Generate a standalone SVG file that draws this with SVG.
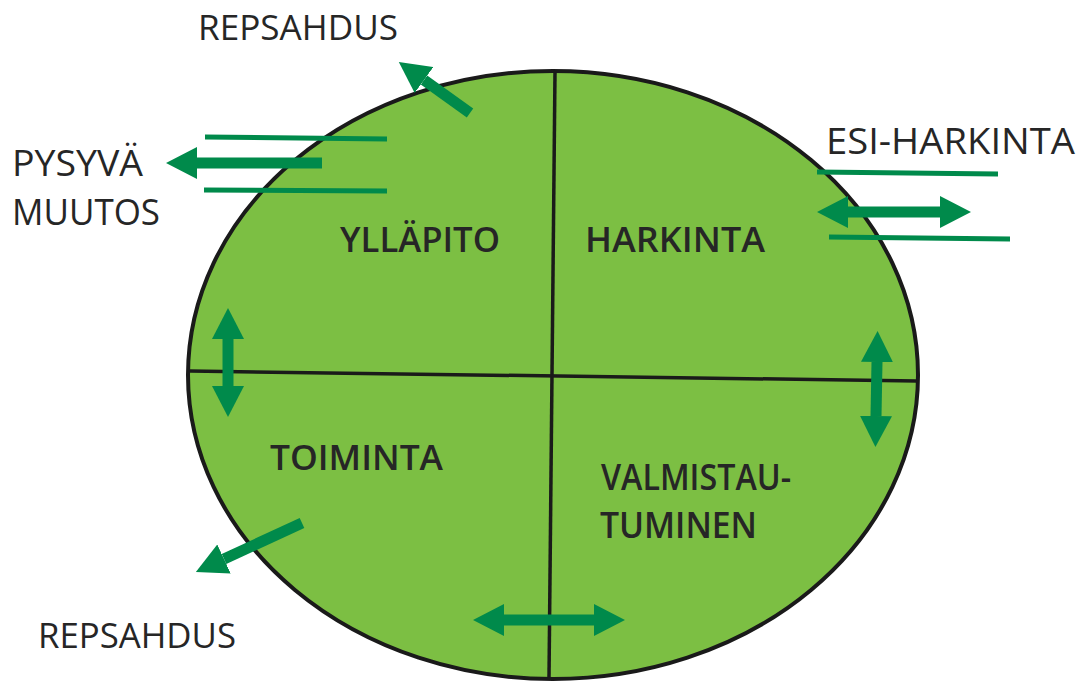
<svg xmlns="http://www.w3.org/2000/svg" width="1088" height="684" viewBox="0 0 1088 684">
<style>
.lbl{font-family:"Open Sans","Liberation Sans",sans-serif;font-weight:600;fill:#262626}
.out{font-family:"Open Sans","Liberation Sans",sans-serif;font-weight:500;fill:#262626}
.arr{stroke:#008a4b;stroke-width:11;fill:none}
.thin{stroke:#008a4b;stroke-width:5;fill:none}
.div{stroke:#1a1a1a;stroke-width:3.5;fill:none}
</style>
<defs>
<marker id="ah" viewBox="0 -16 31 32" refX="0" refY="0" markerWidth="31" markerHeight="32" markerUnits="userSpaceOnUse" orient="auto-start-reverse">
<path d="M0,-16 L31,0 L0,16 z" fill="#008a4b"/>
</marker>
</defs>
<rect width="1088" height="684" fill="#ffffff"/>
<g id="ellipse">
<ellipse cx="553" cy="375" rx="365" ry="304" fill="#7cbf43" stroke="#1a1a1a" stroke-width="4"/>
<line class="div" x1="555" y1="72" x2="549" y2="678"/>
<line class="div" x1="190" y1="371" x2="917" y2="381"/>
</g>
<g id="quadrant-labels">
<text class="lbl" x="340" y="252" font-size="34" textLength="160" lengthAdjust="spacingAndGlyphs">YLLÄPITO</text>
<text class="lbl" x="585" y="252" font-size="34" textLength="180" lengthAdjust="spacingAndGlyphs">HARKINTA</text>
<text class="lbl" x="270" y="470" font-size="34" textLength="173" lengthAdjust="spacingAndGlyphs">TOIMINTA</text>
<text class="lbl" x="601" y="490" font-size="36" textLength="190" lengthAdjust="spacingAndGlyphs">VALMISTAU-</text>
<text class="lbl" x="600" y="538" font-size="36" textLength="157" lengthAdjust="spacingAndGlyphs">TUMINEN</text>
</g>
<g id="outer-labels">
<text class="out" x="198" y="40" font-size="35" textLength="200" lengthAdjust="spacingAndGlyphs">REPSAHDUS</text>
<text class="out" x="12" y="176" font-size="37" textLength="131" lengthAdjust="spacingAndGlyphs">PYSYVÄ</text>
<text class="out" x="12" y="225" font-size="37" textLength="148" lengthAdjust="spacingAndGlyphs">MUUTOS</text>
<text class="out" x="826" y="154" font-size="36" textLength="249" lengthAdjust="spacingAndGlyphs">ESI-HARKINTA</text>
<text class="out" x="38" y="648" font-size="35" textLength="198" lengthAdjust="spacingAndGlyphs">REPSAHDUS</text>
</g>
<g id="connectors">
<line class="arr" x1="470" y1="113" x2="424" y2="80" marker-end="url(#ah)"/>
<line class="thin" x1="205" y1="137" x2="387" y2="139"/>
<line class="arr" x1="322" y1="163" x2="197" y2="163" marker-end="url(#ah)"/>
<line class="thin" x1="204" y1="190" x2="387" y2="191"/>
<line class="thin" x1="817" y1="172" x2="998" y2="174"/>
<line class="arr" x1="848" y1="212" x2="940" y2="212" marker-start="url(#ah)" marker-end="url(#ah)"/>
<line class="thin" x1="829" y1="237" x2="1010" y2="239"/>
<line class="arr" x1="228" y1="339" x2="228" y2="386" marker-start="url(#ah)" marker-end="url(#ah)"/>
<line class="arr" x1="877" y1="362" x2="876" y2="416" marker-start="url(#ah)" marker-end="url(#ah)"/>
<line class="arr" x1="302" y1="523" x2="224" y2="559" marker-end="url(#ah)"/>
<line class="arr" x1="504" y1="620" x2="594" y2="620" marker-start="url(#ah)" marker-end="url(#ah)"/>
</g>
</svg>
